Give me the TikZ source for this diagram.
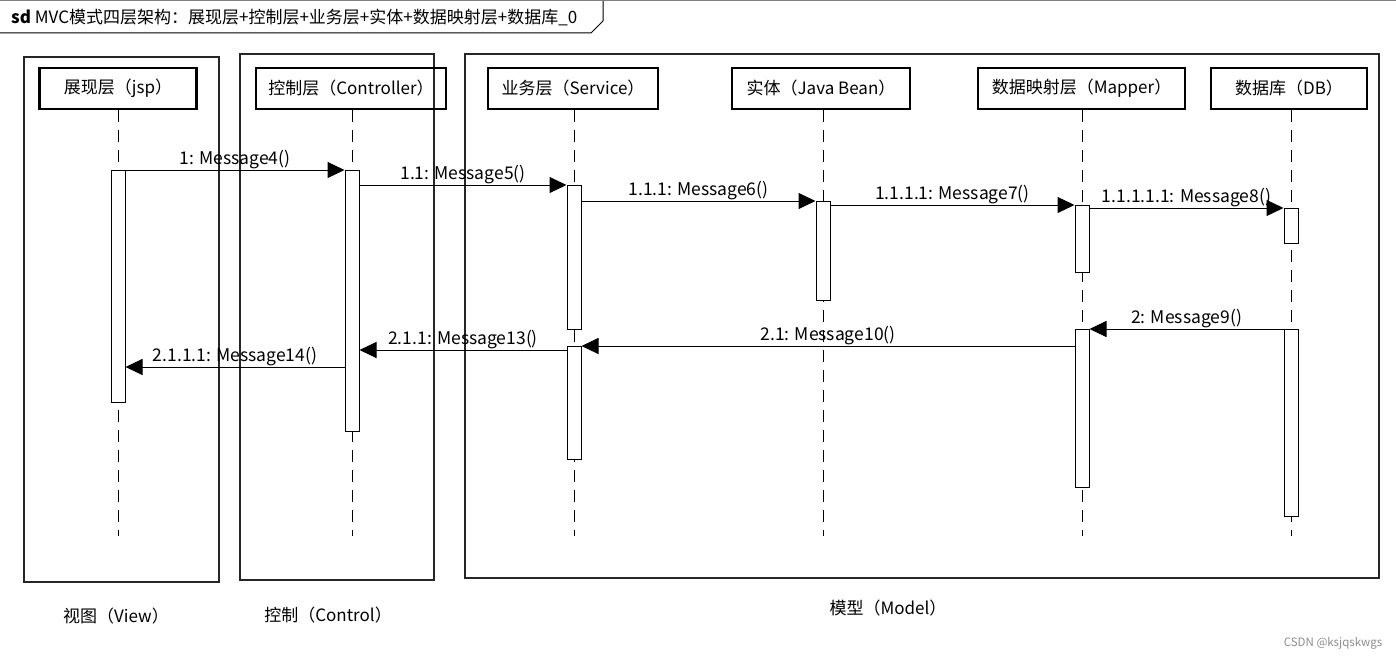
\documentclass[tikz,border=0pt]{standalone}
\usepackage{fontspec}
\setmainfont{Noto Sans CJK SC}
\usetikzlibrary{arrows.meta}
\begin{document}
\begin{tikzpicture}[x=1pt,y=-1pt,
  font=\fontsize{17}{20}\selectfont,
  head/.style={draw, line width=2.8pt, minimum width=#1, minimum height=41pt, inner sep=0pt},
  life/.style={line width=0.9pt, dash pattern=on 12pt off 8pt},
  act/.style={draw, fill=white, line width=1pt, minimum width=14pt, inner sep=0pt, anchor=north},
  msg/.style={line width=1pt, -{Triangle[length=17pt,width=16pt]}},
  lbl/.style={above, inner sep=1pt, font=\fontsize{17.5}{20}\selectfont},
  frame/.style={draw=black!85, line width=1.1pt}]
\useasboundingbox (0,0) rectangle (1396,661);
% header
\draw[gray, line width=1pt] (0,1) -- (1396,1);
\draw[line width=1pt] (0,33) -- (591,33) -- (603,21) -- (603,1);
\node[anchor=west, inner sep=0pt] (title) at (11,17) {\textbf{sd} MVC模式四层架构：展现层+控制层+业务层+实体+数据映射层+数据库\_0};
% frames
\draw[frame] (24,57) rectangle (219,582);
\draw[frame] (240,54) rectangle (434,580);
\draw[frame] (465,54) rectangle (1379,578);
% heads
\node[head=157pt] (jsp) at (118,88.5) {展现层（jsp）};
\node[head=190pt] (ctl) at (351,88.5) {控制层（Controller）};
\node[head=170pt] (svc) at (573,88.5) {业务层（Service）};
\node[head=178pt] (bean) at (821,88.5) {实体（Java Bean）};
\node[head=207pt] (map) at (1081.5,88.5) {数据映射层（Mapper）};
\node[head=156pt] (db) at (1289,88.5) {数据库（DB）};
% lifelines
\draw[life] (118,110) -- (118,536);
\draw[life] (352,110) -- (352,536);
\draw[life] (574,110) -- (574,536);
\draw[life] (823,110) -- (823,536);
\draw[life] (1082,110) -- (1082,536);
\draw[life] (1291,110) -- (1291,536);
% activations
\node[act, minimum height=232pt] (jspA) at (118,170) {};
\node[act, minimum height=261pt] (ctlA) at (352,170) {};
\node[act, minimum height=144pt] (svcA) at (574,185) {};
\node[act, minimum height=113pt] (svcB) at (574,346) {};
\node[act, minimum height=99pt] (beanA) at (823,201) {};
\node[act, minimum height=67pt] (mapA) at (1082,205) {};
\node[act, minimum height=158pt] (mapB) at (1082,329) {};
\node[act, minimum height=35pt] (dbA) at (1291,208) {};
\node[act, minimum height=187pt] (dbB) at (1291,329) {};
% message levels
\coordinate (y1) at (0,170);
\coordinate (y2) at (0,185);
\coordinate (y3) at (0,201);
\coordinate (y4) at (0,205);
\coordinate (y5) at (0,208);
\coordinate (y6) at (0,329);
\coordinate (y7) at (0,346);
\coordinate (y8) at (0,350);
\coordinate (y9) at (0,367);
% messages
\draw[msg] (jspA.east |- y1) -- node[lbl] {1: Message4()} (ctlA.west |- y1);
\draw[msg] (ctlA.east |- y2) -- node[lbl] {1.1: Message5()} (svcA.west |- y2);
\draw[msg] (svcA.east |- y3) -- node[lbl] {1.1.1: Message6()} (beanA.west |- y3);
\draw[msg] (beanA.east |- y4) -- node[lbl] {1.1.1.1: Message7()} (mapA.west |- y4);
\draw[msg] (mapA.east |- y5) -- node[lbl] {1.1.1.1.1: Message8()} (dbA.west |- y5);
\draw[msg] (dbB.west |- y6) -- node[lbl] {2: Message9()} (mapB.east |- y6);
\draw[msg] (mapB.west |- y7) -- node[lbl] {2.1: Message10()} (svcB.east |- y7);
\draw[msg] (svcB.west |- y8) -- node[lbl] {2.1.1: Message13()} (ctlA.east |- y8);
\draw[msg] (ctlA.west |- y9) -- node[lbl] {2.1.1.1: Message14()} (jspA.east |- y9);
% group labels
\node (lv) at (116,616) {视图（View）};
\node (lc) at (328,615) {控制（Control）};
\node (lm) at (888,608) {模型（Model）};
\node[text=black!45, font=\fontsize{11.5}{14}\selectfont] (wm) at (1333,643) {CSDN @ksjqskwgs};
\end{tikzpicture}
\end{document}
